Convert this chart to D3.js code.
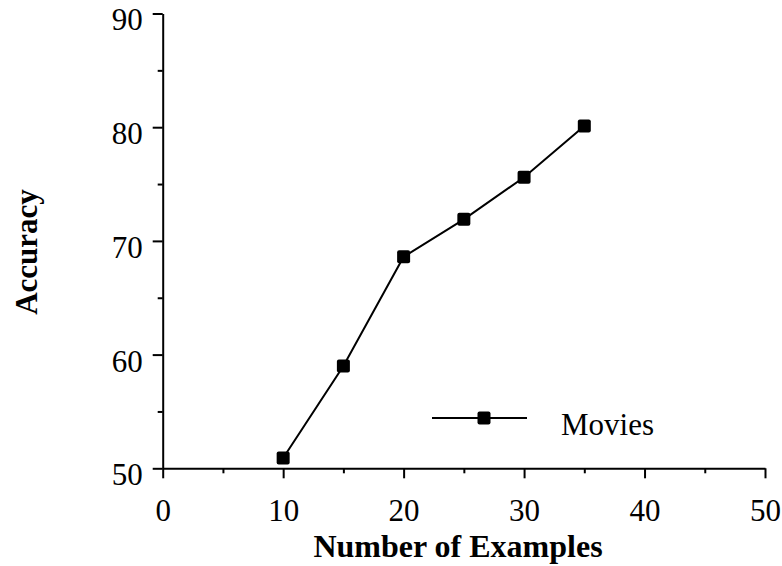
<!DOCTYPE html>
<html>
<head>
<meta charset="utf-8">
<script src="https://cdn.jsdelivr.net/npm/d3@7"></script>
<style>
  body { margin: 0; background: #fff; }
  text { font-family: "Liberation Serif", "Times New Roman", serif; fill: #000; }
</style>
</head>
<body>
<script>
// Accuracy vs number of examples, one series
var examples = [10, 15, 20, 25, 30, 35];
var accuracy = [50.9, 59.0, 68.6, 71.9, 75.6, 80.1];
var xTicks = [0, 10, 20, 30, 40, 50];
var yTicks = [50, 60, 70, 80, 90];
var seriesName = "Movies";

var w = 782;
var h = 566;

var svg = d3.select("body")
  .append("svg")
  .attr("width", w)
  .attr("height", h);

var x = d3.scaleLinear().domain([0, 50]).range([162.7, 765]);
var y = d3.scaleLinear().domain([50, 90]).range([468.3, 13.5]);

var xAxis = svg.append("g")
  .attr("transform", "translate(0," + y(50) + ")")
  .call(d3.axisBottom(x).tickValues(xTicks).tickSize(10).tickSizeOuter(0));
xAxis.selectAll("text")
  .attr("y", 53).attr("dy", 0)
  .attr("font-size", 31);

svg.append("g")
  .attr("transform", "translate(0," + y(50) + ")")
  .call(d3.axisBottom(x).tickValues(d3.range(5, 50, 10)).tickSize(5).tickFormat(""))
  .select(".domain").remove();

var yAxis = svg.append("g")
  .attr("transform", "translate(" + x(0) + ",0)")
  .call(d3.axisLeft(y).tickValues(yTicks).tickSize(10).tickSizeOuter(0));
yAxis.selectAll("text")
  .attr("x", -20).attr("dy", "0.53em")
  .attr("font-size", 31);

svg.append("g")
  .attr("transform", "translate(" + x(0) + ",0)")
  .call(d3.axisLeft(y).tickValues(d3.range(55, 90, 10)).tickSize(5).tickFormat(""))
  .select(".domain").remove();

svg.selectAll(".domain, .tick line")
  .attr("stroke", "#000")
  .attr("stroke-width", 2);
svg.selectAll(".tick text").attr("font-family", "Liberation Serif").attr("fill", "#000");

var pts = examples.map(function(d, i) { return [d, accuracy[i]]; });

svg.append("path")
  .datum(pts)
  .attr("fill", "none")
  .attr("stroke", "#000")
  .attr("stroke-width", 2)
  .attr("d", d3.line()
    .x(function(d) { return x(d[0]); })
    .y(function(d) { return y(d[1]); }));

svg.selectAll("rect.pt")
  .data(pts)
  .enter()
  .append("rect")
  .attr("class", "pt")
  .attr("x", function(d) { return x(d[0]) - 6.5; })
  .attr("y", function(d) { return y(d[1]) - 6.5; })
  .attr("width", 13)
  .attr("height", 13)
  .attr("rx", 2)
  .attr("fill", "#000");

// legend
var lg = svg.append("g").attr("transform", "translate(432,418)");
lg.append("line")
  .attr("x1", 0).attr("x2", 95).attr("y1", 0).attr("y2", 0)
  .attr("stroke", "#000").attr("stroke-width", 2);
lg.append("rect")
  .attr("x", 52 - 6.5).attr("y", -6.5)
  .attr("width", 13).attr("height", 13).attr("rx", 2)
  .attr("fill", "#000");
lg.append("text")
  .attr("x", 129).attr("y", 17)
  .attr("font-size", 31)
  .text(seriesName);

// axis titles
svg.append("text")
  .attr("x", 458).attr("y", 557)
  .attr("text-anchor", "middle")
  .attr("font-size", 32)
  .attr("font-weight", "bold")
  .text("Number of Examples");

svg.append("text")
  .attr("transform", "translate(37,252) rotate(-90)")
  .attr("text-anchor", "middle")
  .attr("font-size", 31)
  .attr("font-weight", "bold")
  .text("Accuracy");
</script>
</body>
</html>
